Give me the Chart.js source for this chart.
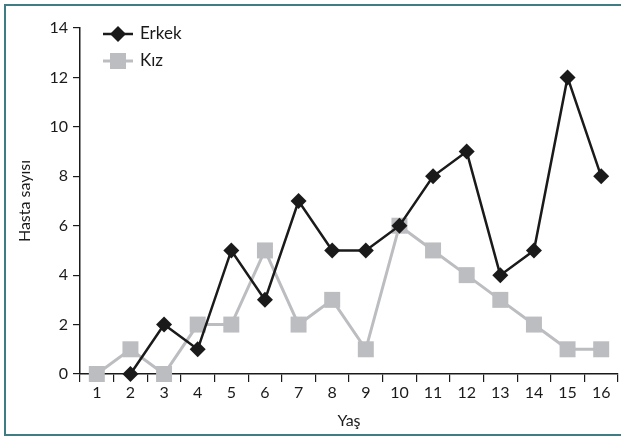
<!DOCTYPE html>
<html>
<head>
<meta charset="utf-8">
<script src="https://cdn.jsdelivr.net/npm/chart.js@4/dist/chart.umd.min.js"></script>
<style>
  html, body { margin: 0; padding: 0; background: #fff; }
  #wrap { width: 621px; height: 437px; position: relative; }
</style>
</head>
<body>
<div id="wrap"><canvas id="yasChart"></canvas></div>
<script>
const ages = ['1', '2', '3', '4', '5', '6', '7', '8', '9', '10', '11', '12', '13', '14', '15', '16'];
const erkek = [null, 0, 2, 1, 5, 3, 7, 5, 5, 6, 8, 9, 4, 5, 12, 8];
const kiz = [0, 1, 0, 2, 2, 5, 2, 3, 1, 6, 5, 4, 3, 2, 1, 1];
const yTicks = [0, 2, 4, 6, 8, 10, 12, 14];

const FONT = 'Lato, "Open Sans", sans-serif';
const BLACK = '#1a1a1a';
const GREY = '#bcbdc0';

// frame + legend drawn by hand, like the original figure
const framePlugin = {
    id: 'frame',
    afterDraw(chart) {
        const ctx = chart.ctx;
        ctx.save();
        ctx.strokeStyle = '#3e7d84';
        ctx.lineWidth = 2;
        ctx.beginPath();
        ctx.moveTo(621, 5);
        ctx.lineTo(5, 5);
        ctx.lineTo(5, 435);
        ctx.lineTo(621, 435);
        ctx.stroke();

        // legend
        const items = [
            { label: 'Erkek', color: BLACK, style: 'diamond', y: 34 },
            { label: 'Kız', color: GREY, style: 'square', y: 61 }
        ];
        items.forEach(function (it) {
            ctx.strokeStyle = it.color;
            ctx.fillStyle = it.color;
            ctx.lineWidth = it.style === 'diamond' ? 2.5 : 3;
            ctx.beginPath();
            ctx.moveTo(103, it.y);
            ctx.lineTo(133, it.y);
            ctx.stroke();
            ctx.beginPath();
            if (it.style === 'diamond') {
                ctx.moveTo(118, it.y - 8);
                ctx.lineTo(126, it.y);
                ctx.lineTo(118, it.y + 8);
                ctx.lineTo(110, it.y);
            } else {
                ctx.rect(110, it.y - 8, 16, 16);
            }
            ctx.closePath();
            ctx.fill();
            ctx.fillStyle = '#1a1a1a';
            ctx.font = '17px ' + FONT;
            ctx.textBaseline = 'middle';
            ctx.fillText(it.label, 140, it.y);
        });
        ctx.restore();
    }
};

const ctx = document.getElementById('yasChart').getContext('2d');
new Chart(ctx, {
    type: 'line',
    data: {
        labels: ages,
        datasets: [
            {
                label: 'Kız',
                data: kiz,
                borderColor: GREY,
                backgroundColor: GREY,
                borderWidth: 3,
                pointStyle: 'rect',
                pointRadius: 11.3,
                pointBorderWidth: 0,
                tension: 0,
                clip: false,
                order: 2
            },
            {
                label: 'Erkek',
                data: erkek,
                borderColor: BLACK,
                backgroundColor: BLACK,
                borderWidth: 2.5,
                pointStyle: 'rectRot',
                pointRadius: 8,
                pointBorderWidth: 0,
                tension: 0,
                spanGaps: false,
                clip: false,
                order: 1
            }
        ]
    },
    options: {
        responsive: true,
        maintainAspectRatio: false,
        animation: false,
        layout: { autoPadding: false, padding: { top: 28, right: 3, left: 0, bottom: 0 } },
        plugins: {
            legend: { display: false },
            title: { display: false },
            tooltip: { enabled: false }
        },
        scales: {
            x: {
                offset: true,
                grid: {
                    offset: true,
                    drawOnChartArea: false,
                    drawTicks: true,
                    tickLength: 8,
                    color: BLACK,
                    lineWidth: 1.2
                },
                border: { display: true, color: BLACK, width: 1.5 },
                ticks: {
                    color: '#1a1a1a',
                    font: { family: FONT, size: 16 },
                    padding: 1,
                    maxRotation: 0,
                    autoSkip: false
                },
                title: {
                    display: true,
                    text: 'Yaş',
                    color: '#1a1a1a',
                    font: { family: FONT, size: 16 },
                    padding: { top: 0, bottom: 7 }
                },
                afterFit: function (s) { s.height = 63; }
            },
            y: {
                min: 0,
                max: 14,
                afterBuildTicks: function (s) {
                    s.ticks = yTicks.map(function (v) { return { value: v }; });
                },
                grid: {
                    drawOnChartArea: false,
                    drawTicks: true,
                    tickLength: 7,
                    color: BLACK,
                    lineWidth: 1.2
                },
                border: { display: true, color: BLACK, width: 1.5 },
                ticks: {
                    color: '#1a1a1a',
                    font: { family: FONT, size: 16 },
                    padding: 5
                },
                title: {
                    display: true,
                    text: 'Hasta sayısı',
                    color: '#1a1a1a',
                    font: { family: FONT, size: 16 },
                    padding: { top: 15, bottom: 0 }
                },
                afterFit: function (s) { s.width = 80; }
            }
        }
    },
    plugins: [framePlugin]
});
</script>
</body>
</html>
